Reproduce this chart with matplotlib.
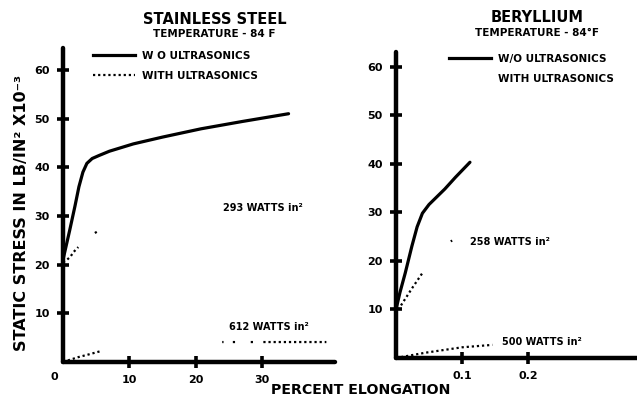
import numpy as np
import matplotlib
matplotlib.use("Agg")
import matplotlib.pyplot as plt
from matplotlib.lines import Line2D

plt.rcParams['font.family'] = ['DejaVu Sans']
plt.rcParams['font.weight'] = 'bold'

# ---- Stainless steel (percent elongation vs static stress, 10^3 lb/in^2) ----
ss_wo_x = [0.0, 1.0, 1.8, 2.4, 3.0, 3.6, 4.4, 5.4, 7.0, 10.6, 15.0, 20.8, 27.0, 34.0]
ss_wo_y = [21.0, 27.0, 32.0, 36.0, 39.0, 40.8, 41.8, 42.4, 43.3, 44.8, 46.2, 47.9, 49.4, 51.0]

ss_293_x = [0.0, 0.6, 1.1, 1.6, 2.3, np.nan, 3.9, np.nan, 4.8, 5.3]
ss_293_y = [20.5, 21.0, 21.6, 22.6, 23.6, np.nan, 25.9, np.nan, 26.5, 26.9]

ss_612_x = [0.0, 2.3, 4.0, 5.6, np.nan, 6.4, np.nan, 24.0, 24.2, np.nan,
            25.6, 26.0, np.nan, 28.3, 28.8, np.nan, 30.2, 39.7]
ss_612_y = [0.0, 1.0, 1.6, 2.2, np.nan, 2.7, np.nan, 4.1, 4.1, np.nan,
            4.1, 4.1, np.nan, 4.1, 4.1, np.nan, 4.1, 4.1]

ss_xticks = [10, 20, 30]
ss_yticks = [10, 20, 30, 40, 50, 60]

# ---- Beryllium ----
be_wo_x = [0.0, 0.006, 0.014, 0.024, 0.032, 0.040, 0.050, 0.062, 0.074, 0.090, 0.112]
be_wo_y = [10.0, 13.5, 17.5, 23.0, 27.0, 29.8, 31.6, 33.2, 34.8, 37.2, 40.3]

be_258_x = [0.0, 0.006, 0.025, 0.041, np.nan, 0.048, np.nan, 0.074, np.nan, 0.083, 0.085]
be_258_y = [9.0, 10.5, 14.5, 17.7, np.nan, 19.5, np.nan, 23.2, np.nan, 24.0, 24.2]

be_500_x = [0.0, 0.045, 0.100, 0.146]
be_500_y = [0.0, 1.1, 2.2, 2.7]

be_xticks = [0.1, 0.2]
be_yticks = [10, 20, 30, 40, 50, 60]

W, H = 637, 404
fig = plt.figure(figsize=(W / 100, H / 100), dpi=100)


def px_axes(left, right, bottom, top):
    return fig.add_axes([left / W, 1 - bottom / H, (right - left) / W, (bottom - top) / H])


ax1 = px_axes(63, 335, 362, 48)
ax2 = px_axes(396, 637, 358, 52)

DOT = (0, (1.0, 1.3))

for ax in (ax1, ax2):
    for s in ('top', 'right'):
        ax.spines[s].set_visible(False)
    for s in ('left', 'bottom'):
        ax.spines[s].set_linewidth(3.2)
        ax.spines[s].set_capstyle('round')
    ax.tick_params(direction='inout', length=9, width=2.6, labelsize=8, pad=5)
    ax.patch.set_alpha(0)

ax1.set_xlim(0, 41)
ax1.set_ylim(0, 64.5)
ax2.set_xlim(0, 0.365)
ax2.set_ylim(0, 63)

ax1.plot(ss_wo_x, ss_wo_y, color='black', lw=2.3, solid_capstyle='round',
         solid_joinstyle='round', clip_on=False)
ax1.plot(ss_293_x, ss_293_y, color='black', lw=1.6, ls=DOT, clip_on=False)
ax1.plot(ss_612_x, ss_612_y, color='black', lw=1.6, ls=DOT, clip_on=False)

ax2.plot(be_wo_x, be_wo_y, color='black', lw=2.3, solid_capstyle='round',
         solid_joinstyle='round', clip_on=False)
ax2.plot(be_258_x, be_258_y, color='black', lw=1.6, ls=DOT, clip_on=False)
ax2.plot(be_500_x, be_500_y, color='black', lw=1.6, ls=DOT, clip_on=False)

ax1.set_xticks(ss_xticks)
ax1.set_xticklabels([str(v) for v in ss_xticks])
ax1.set_yticks(ss_yticks)
ax1.set_yticklabels([str(v) for v in ss_yticks])
ax1.text(-0.8, -2.0, '0', ha='right', va='top', fontsize=8)

ax2.set_xticks(be_xticks)
ax2.set_xticklabels([str(v) for v in be_xticks])
ax2.set_yticks(be_yticks)
ax2.set_yticklabels([str(v) for v in be_yticks])

ann = dict(fontsize=7, ha='left', va='center')
ax1.text(24.1, 31.6, '293 WATTS in\u00b2', **ann)
ax1.text(25.0, 7.2, '612 WATTS in\u00b2', **ann)
ax2.text(0.112, 23.9, '258 WATTS in\u00b2', **ann)
ax2.text(0.160, 3.3, '500 WATTS in\u00b2', **ann)

# titles
fig.text(215 / W, 1 - 20 / H, 'STAINLESS STEEL', ha='center', va='center', fontsize=10.5)
fig.text(214 / W, 1 - 34 / H, 'TEMPERATURE - 84 F', ha='center', va='center', fontsize=7.5)
fig.text(537 / W, 1 - 18 / H, 'BERYLLIUM', ha='center', va='center', fontsize=10.5)
fig.text(537 / W, 1 - 33 / H, 'TEMPERATURE - 84\u00b0F', ha='center', va='center', fontsize=7.5)

# legends
h_wo = Line2D([], [], color='black', lw=2.3)
h_w = Line2D([], [], color='black', lw=1.6, ls=DOT)
h_none = Line2D([], [], color='none', lw=0)
leg_kw = dict(frameon=False, fontsize=7.5, handlelength=4.0, handletextpad=0.75,
              labelspacing=0.95, borderpad=0, borderaxespad=0, loc='upper left',
              bbox_transform=fig.transFigure)
ax1.legend([h_wo, h_w], ['W O ULTRASONICS', 'WITH ULTRASONICS'],
           bbox_to_anchor=(93 / W, 1 - 51 / H), **leg_kw)
ax2.legend([h_wo, h_none], ['W/O ULTRASONICS', 'WITH ULTRASONICS'],
           bbox_to_anchor=(449 / W, 1 - 54 / H), **leg_kw)

fig.text(22 / W, 1 - 213 / H, 'STATIC STRESS IN LB/IN\u00b2 X10\u207b\u00b3', rotation=90,
         ha='center', va='center', fontsize=11.5)
fig.text(361 / W, 1 - 390 / H, 'PERCENT ELONGATION', ha='center', va='center', fontsize=10.2)

fig.savefig('out.png', dpi=100, facecolor='white')
